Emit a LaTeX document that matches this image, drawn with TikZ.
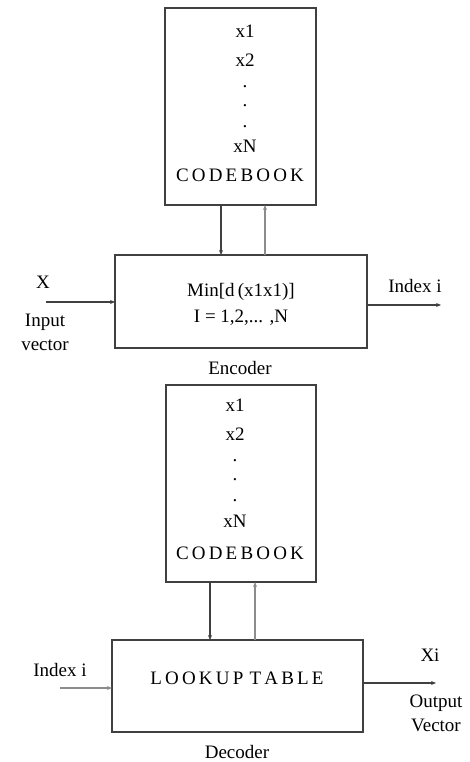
\documentclass[tikz,border=0pt]{standalone}
\usepackage{fontspec}
\setmainfont{Liberation Serif}
\usetikzlibrary{arrows.meta}
\begin{document}
\begin{tikzpicture}[x=1pt,y=-1pt,
  box/.style={draw=black!75,line width=1.3pt},
  lbl/.style={font=\fontsize{19}{22}\selectfont,inner sep=0pt,text=black},
  arr/.style={draw=black!75,line width=1.3pt,-{Stealth[length=5pt,width=4pt]}},
  arrg/.style={draw=black!45,line width=2pt,-{Stealth[length=5pt,width=4pt]}}]
\useasboundingbox (0,0) rectangle (470,762);
% top codebook
\draw[box] (165,8) rectangle (316,205);
\node[lbl] (t1) at (245,31) {x1};
\node[lbl] (t2) at (245,60) {x2};
\node[lbl] (t3) at (245,87) {.};
\node[lbl] (t4) at (245,106) {.};
\node[lbl] (t5) at (245,127) {.};
\node[lbl] (t6) at (245,146) {xN};
\node[lbl] (t7) at (240,175) {C\,O\,D\,E\,B\,O\,O\,K};
% encoder
\draw[box] (115,255) rectangle (367,348);
\node[lbl] (m1) at (241,292) {Min[d\,(x1x1)]};
\node[lbl] (m2) at (241,318) {I = 1,2,... ,N};
\node[lbl] (enc) at (240,368) {Encoder};
\coordinate (a1) at (221,205); \coordinate (a2) at (221,255);
\draw[arr] (a1) -- (a2);
\coordinate (b1) at (265,255); \coordinate (b2) at (265,205);
\draw[arrg] (b1) -- (b2);
\node[lbl] (X) at (43,282) {X};
\node[lbl] (iv1) at (45,322) {Input};
\node[lbl] (iv2) at (45,345) {vector};
\coordinate (in1) at (46,302); \coordinate (in2) at (115,302);
\draw[arr] (in1) -- (in2);
\node[lbl] (idx) at (415,286) {Index i};
\coordinate (o1) at (367,305); \coordinate (o2) at (441,305);
\draw[arr] (o1) -- (o2);
% second codebook
\draw[box] (166,385) rectangle (316,582);
\node[lbl] (u1) at (235,405) {x1};
\node[lbl] (u2) at (235,434) {x2};
\node[lbl] (u3) at (235,461) {.};
\node[lbl] (u4) at (235,480) {.};
\node[lbl] (u5) at (235,501) {.};
\node[lbl] (u6) at (235,521) {xN};
\node[lbl] (u7) at (240,553) {C\,O\,D\,E\,B\,O\,O\,K};
% decoder
\draw[box] (112,640) rectangle (363,732);
\node[lbl] (lt) at (237,678) {L\,O\,O\,K\,U\,P\,\,T\,A\,B\,L\,E};
\node[lbl] (dec) at (237,752) {Decoder};
\coordinate (c1) at (210,582); \coordinate (c2) at (210,640);
\draw[arr] (c1) -- (c2);
\coordinate (d1) at (255,640); \coordinate (d2) at (255,582);
\draw[arrg] (d1) -- (d2);
\node[lbl] (idx2) at (60,670) {Index i};
\coordinate (e1) at (60,688); \coordinate (e2) at (112,688);
\draw[arrg] (e1) -- (e2);
\node[lbl] (xi) at (430,655) {Xi};
\coordinate (f1) at (363,683); \coordinate (f2) at (436,683);
\draw[arr] (f1) -- (f2);
\node[lbl] (ov1) at (436,703) {Output};
\node[lbl] (ov2) at (436,725) {Vector};
\end{tikzpicture}
\end{document}
